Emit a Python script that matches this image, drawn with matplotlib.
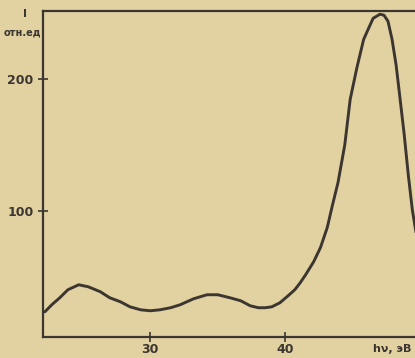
import matplotlib
matplotlib.use("Agg")
import matplotlib.pyplot as plt

# значения
energy = [22.2, 22.7, 23.3, 23.9, 24.7, 25.4, 26.3, 27.0, 27.8, 28.5, 29.3,
          30.0, 30.7, 31.5, 32.2, 33.2, 34.2, 35.0, 35.9, 36.7, 37.4, 38.0,
          38.5, 39.0, 39.6, 40.2, 40.7, 41.1, 41.5, 42.1, 42.6, 43.1, 43.5,
          43.9, 44.4, 44.8, 45.3, 45.8, 46.2, 46.5, 47.0, 47.3, 47.6, 47.9,
          48.2, 48.5, 48.8, 49.1, 49.4, 49.7]
intensity = [22.9, 28.2, 33.6, 39.7, 43.5, 42.0, 38.2, 33.6, 30.5, 26.7, 24.4,
             23.7, 24.4, 26.0, 28.2, 32.8, 35.9, 35.9, 33.6, 31.3, 27.5, 26.0,
             26.0, 26.7, 29.8, 35.1, 39.7, 45.0, 51.1, 61.1, 71.8, 87.0, 104.6,
             121.4, 150.0, 184.7, 209.0, 230.5, 239.7, 246.5, 249.6, 248.9,
             244.3, 230.5, 211.0, 184.7, 158.0, 127.5, 100.8, 81.7]
x_ticks = [30, 40]
y_ticks = [100, 200]

paper = "#e2d2a2"
ink = "#3b3630"

plt.rcParams['font.family'] = ['DejaVu Sans']
fig = plt.figure(figsize=(4.15, 3.58), dpi=100, facecolor=paper)
ax = fig.add_axes([0.104, 0.059, 0.896, 0.910])
ax.set_facecolor(paper)

ax.plot(energy, intensity, color=ink, lw=2.1, solid_joinstyle="round",
        solid_capstyle="round")

ax.set_xlim(22.07, 49.6)
ax.set_ylim(3.8, 252)
ax.set_xticks(x_ticks)
ax.set_yticks(y_ticks)
ax.tick_params(direction="inout", length=7, width=1.2, color=ink,
               labelcolor=ink, labelsize=9)
ax.tick_params(axis="x", pad=1)
for lab in ax.get_xticklabels() + ax.get_yticklabels():
    lab.set_fontweight("bold")

ax.spines["right"].set_visible(False)
for s in ["left", "top", "bottom"]:
    ax.spines[s].set_color(ink)
    ax.spines[s].set_linewidth(1.6)

fig.text(0.06, 0.975, "I", color=ink, fontsize=8, fontweight="bold",
         ha="center", va="top")
fig.text(0.055, 0.91, "отн.ед", color=ink, fontsize=7, fontweight="bold",
         ha="center", va="center")
fig.text(0.945, 0.024, "hν, эВ", color=ink, fontsize=8, fontweight="bold",
         ha="center", va="center")

fig.savefig("out.png", dpi=100, facecolor=paper)
